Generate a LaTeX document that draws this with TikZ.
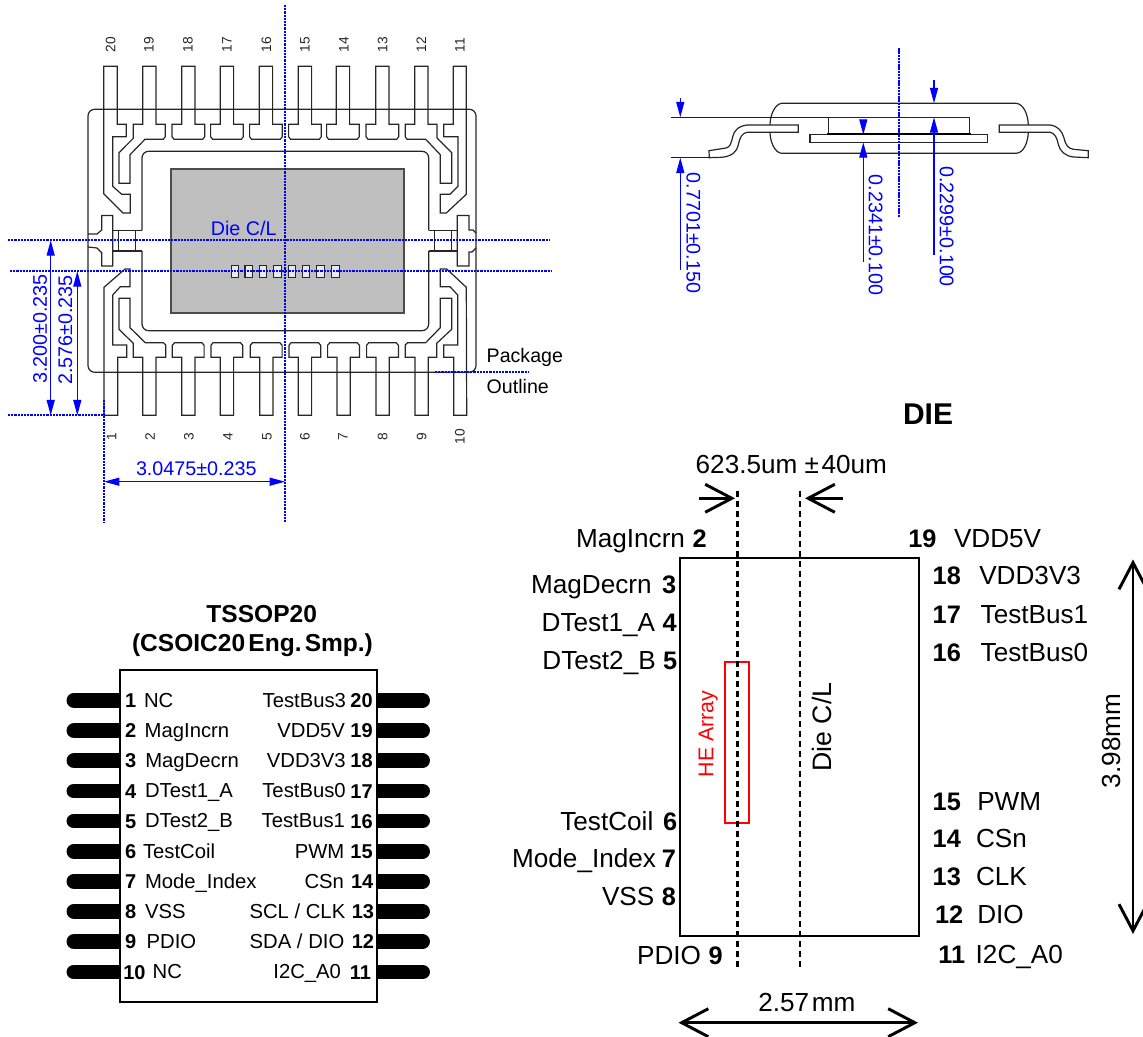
\documentclass[tikz,border=0pt]{standalone}
\usepackage{fontspec}
\setmainfont{Liberation Sans}
\usetikzlibrary{arrows.meta}
\definecolor{diegray}{HTML}{BFBFBF}
\definecolor{padfill}{HTML}{E4E9F2}
\tikzset{
  lead/.style={draw=black!85, line width=0.9pt, line join=miter},
  center line/.style={draw=blue, line width=1.3pt, dash pattern=on 1.7pt off 0.7pt},
  dimline/.style={draw=blue, line width=0.9pt},
  dimtip/.style={-{Triangle[length=11.5pt,width=6pt,color=blue]}},
  dimtips/.style={{Triangle[length=11.5pt,width=6pt,color=blue]}-{Triangle[length=11.5pt,width=6pt,color=blue]}},
  outline/.style={draw=black, line width=1.3pt},
  bigtip/.style={-{Straight Barb[length=20pt,width=21pt,line width=2.2pt]}},
  bigtips/.style={{Straight Barb[length=20pt,width=21pt,line width=2.2pt]}-{Straight Barb[length=20pt,width=21pt,line width=2.2pt]}},
  diedash/.style={draw=black, line width=2pt, dash pattern=on 4.5pt off 3pt},
  pinbar/.style={line width=11.2pt, line cap=round, draw=black},
  every node/.style={inner sep=0pt, outer sep=0pt},
  small/.style={font=\fontsize{10.3}{12}\selectfont, rotate=90, text=black!85},
  dimtext/.style={font=\fontsize{14.8}{18}\selectfont, text=blue},
  chipname/.style={font=\fontsize{15.2}{18}\selectfont},
  chipnum/.style={font=\fontsize{15}{18}\selectfont\bfseries},
  diename/.style={font=\fontsize{19.6}{23}\selectfont},
  dienum/.style={font=\fontsize{19}{23}\selectfont\bfseries},
}
\begin{document}
\begin{tikzpicture}[x=0.75pt,y=-0.75pt]
\useasboundingbox (0,0) rectangle (1143,1037);

% ---- top view ----
\draw[draw=black!70, line width=1.2pt, fill=diegray] (170.7,169) rectangle (404,313.3);
\foreach \x [count=\i] in {231.3,245,259.3,273.7,288.3,302.3,316.7,331.7}
  \draw[lead, fill=padfill] (\x,265.3) rectangle ++(7.5,12);
\draw[lead, rounded corners=5pt] (88,109.3) rectangle (476,372.3);
\draw[lead, rounded corners=5pt] (142,230.3) -- (142,151.3) -- (428.7,151.3) -- (428.7,230.3);
\draw[lead, rounded corners=5pt] (142,251) -- (142,330.7) -- (428.7,330.7) -- (428.7,251);
% tie bars
\draw[lead] (88,234) -- (97,234) -- (101.7,230) -- (101.7,215.5) -- (112.7,215.5) -- (112.7,266) -- (101.7,266) -- (101.7,252.7) -- (97,248) -- (88,247);
\draw[lead] (112.7,230.3) -- (142,230.3) (112.7,251) -- (142,251) (118.3,230.3) -- (118.3,251) (135.7,230.3) -- (135.7,251);
\draw[lead] (476,248) -- (472,252) -- (469,252) -- (469,266) -- (457.3,266) -- (457.3,215.5) -- (469,215.5) -- (469,230) -- (473,230) -- (476,233);
\draw[lead] (428.7,230.3) -- (457.3,230.3) (428.7,251) -- (457.3,251) (434.3,230.3) -- (434.3,251) (451.7,230.3) -- (451.7,251);
% straight T leads, top
\foreach \x in {181.7,220.3,259.3,298.3,336.3,375.7}
  \draw[lead] (\x,66.3) -- (\x,124.3) -- (\x-9.7,124.3) -- (\x-9.7,136.7) -- (\x-7.7,139.3) -- (\x+21,139.3) -- (\x+23,136.7) -- (\x+23,124.3) -- (\x+13.3,124.3) -- (\x+13.3,66.3) -- cycle;
% straight T leads, bottom
\foreach \x in {181.7,220.3,259.7,298.3,337,376}
  \draw[lead] (\x,415.3) -- (\x,357.3) -- (\x-9.4,357.3) -- (\x-9.4,345.3) -- (\x-7.2,342.7) -- (\x+20.2,342.7) -- (\x+22.4,345.3) -- (\x+22.4,357.3) -- (\x+13.3,357.3) -- (\x+13.3,415.3) -- cycle;
% pin 20
\draw[lead] (103.7,66.3) -- (117.3,66.3) -- (117.3,124.3) -- (126.3,124.3) -- (126.3,136.7) -- (112.7,136.7) -- (112.7,186.3) -- (121.7,194.3) -- (130.3,194.3) -- (130.3,213) -- (123,213) -- (103.7,193.7) -- cycle;
% pin 19
\draw[lead] (142.7,66.3) -- (156,66.3) -- (156,124.3) -- (165.3,124.3) -- (165.3,136.7) -- (163.3,139.3) -- (145,139.3) -- (130,154.7) -- (130,183.3) -- (119,183.3) -- (119,152.7) -- (133.3,138.3) -- (133.3,124.3) -- (142.7,124.3) -- cycle;
% pin 12
\draw[lead] (414.7,66.3) -- (428,66.3) -- (428,124.3) -- (437,124.3) -- (437,138) -- (451.7,152.7) -- (451.7,183.3) -- (440.3,183.3) -- (440.3,154.7) -- (425.7,139.3) -- (407,139.3) -- (405.3,136.7) -- (405.3,124.3) -- (414.7,124.3) -- cycle;
% pin 11
\draw[lead] (453.3,66.3) -- (466.3,66.3) -- (466.3,194.3) -- (446.3,213) -- (440.3,213) -- (440.3,194.3) -- (450,194.3) -- (458,186.3) -- (458,136.7) -- (443.7,136.7) -- (443.7,124.3) -- (453.3,124.3) -- cycle;
% pin 1
\draw[lead] (104,415.3) -- (104,287.3) -- (125,269) -- (130,269) -- (130,286.7) -- (120.3,286.7) -- (112.7,295) -- (112.7,345) -- (126.7,345) -- (126.7,357.3) -- (117.7,357.3) -- (117.7,415.3) -- cycle;
% pin 2
\draw[lead] (142.7,415.3) -- (142.7,357.3) -- (133.3,357.3) -- (133.3,343.3) -- (119,329.3) -- (119,298.3) -- (130,298.3) -- (130,327.7) -- (145.3,342.7) -- (163.3,342.7) -- (165.7,345) -- (165.7,357.3) -- (156,357.3) -- (156,415.3) -- cycle;
% pin 9
\draw[lead] (415,415.3) -- (415,357.3) -- (405.3,357.3) -- (405.3,345) -- (407.5,342.7) -- (425.7,342.7) -- (440.3,327.7) -- (440.3,298.3) -- (451.7,298.3) -- (451.7,329.3) -- (436.7,343.3) -- (436.7,357.3) -- (428.3,357.3) -- (428.3,415.3) -- cycle;
% pin 10
\draw[lead] (453.7,415.3) -- (453.7,357.3) -- (443.7,357.3) -- (443.7,345) -- (457.7,345) -- (457.7,295) -- (450,286.7) -- (440.3,286.7) -- (440.3,269) -- (446.7,269) -- (466.3,287.3) -- (466.7,415.3) -- cycle;
% pin numbers
\foreach \x/\t in {110.7/20,149/19,188/18,227/17,266.5/16,305/15,344/14,382.7/13,421.3/12,460/11}
  \node[small] (top\t) at (\x,45) {\t};
\foreach \x/\t in {111.7/1,150/2,189/3,228/4,267/5,305/6,343/7,382.7/8,421.7/9,460/10}
  \node[small] (bot\t) at (\x,436.7) {\t};
% centre lines
\draw[center line] (8,240.3) -- (550,240.3);
\draw[center line] (10,271.3) -- (552,271.3);
\draw[center line] (8,415.3) -- (104,415.3);
\draw[center line] (285,5) -- (285,522.7);
\draw[center line] (104,400) -- (104,522.7);
\draw[center line] (435,372.3) -- (528,372.3);
% dimensions
\coordinate (d1a) at (50.7,240.3); \coordinate (d1b) at (50.7,415.3);
\coordinate (d2a) at (77.3,271.3); \coordinate (d2b) at (77.3,415.3);
\coordinate (d3a) at (104,481.7); \coordinate (d3b) at (285,481.7);
\draw[dimline, dimtips] (d1a) -- (d1b);
\draw[dimline, dimtips] (d2a) -- (d2b);
\draw[dimline, dimtips] (d3a) -- (d3b);
\node[dimtext, rotate=90] (dima) at (40,329) {3.200±0.235};
\node[dimtext, rotate=90] (dimb) at (65.3,330) {2.576±0.235};
\node[dimtext] (dimc) at (196.3,469) {3.0475±0.235};
\node[dimtext] (diecl) at (243.7,228) {Die C/L};
\node[chipname, font=\fontsize{14.7}{18}\selectfont, anchor=west] (pkg) at (486.7,357) {Package};
\node[chipname, font=\fontsize{14.7}{18}\selectfont, anchor=west] (outl) at (486.7,386) {Outline};

% ---- side view ----
\draw[lead] (781.7,103.3) -- (1016,103.3) .. controls (1024,104) and (1028,115) .. (1028.3,125) -- (1028.3,132) .. controls (1028,142) and (1024,153) .. (1016,153.3) -- (781.7,153.3) .. controls (775,153) and (770,142) .. (770,132) -- (770,125) .. controls (770,115) and (775,104) .. (781.7,103.3) -- cycle;
\draw[lead, fill=white] (798.3,125) -- (747.3,125) .. controls (738,126) and (734,131) .. (732.7,136.7) .. controls (731,144) and (730,147) .. (726,148) -- (709,150.7) -- (709.3,157.7) -- (722,157.3) .. controls (733,156) and (737,151) .. (738.3,145) .. controls (740,137) and (742,133) .. (747.3,132.3) -- (798.3,132.3) -- cycle;
\draw[lead, fill=white] (999.3,125) -- (1050,125) .. controls (1058,126) and (1062,131) .. (1064,138) .. controls (1066,146) and (1068,148) .. (1073.3,149.3) -- (1088.3,150.7) -- (1088.3,157.7) -- (1073.3,157) .. controls (1065,156) and (1060,151) .. (1058.5,145) .. controls (1057,138) and (1055,133) .. (1050,132.3) -- (999.3,132.3) -- cycle;
\draw[lead, line width=1pt] (828.3,134.3) -- (828.3,117.3) -- (969.3,117.3) -- (969.3,134.3);
\draw[lead] (810,134.7) rectangle (987.3,142.3);
\draw[draw=black, line width=1.2pt] (827,134.3) -- (971,134.3);
\draw[center line] (898.7,48.3) -- (898.7,216.7);
\draw[dimline] (670.7,117.3) -- (828.3,117.3);
\draw[dimline] (670.7,157.7) -- (709,157.7);
\coordinate (s1a) at (680.3,98.3); \coordinate (s1b) at (680.3,117.3);
\coordinate (s1c) at (680.3,270); \coordinate (s1d) at (680.3,157.7);
\coordinate (s2a) at (863.3,120); \coordinate (s2b) at (863.3,134.7);
\coordinate (s2c) at (863.3,261.7); \coordinate (s2d) at (863.3,142.3);
\coordinate (s3a) at (934,80); \coordinate (s3b) at (934,103.3);
\coordinate (s3c) at (934,255); \coordinate (s3d) at (934,117.3);
\draw[dimline, dimtip] (s1a) -- (s1b);
\draw[dimline, dimtip] (s1c) -- (s1d);
\draw[dimline, dimtip] (s2a) -- (s2b);
\draw[dimline, dimtip] (s2c) -- (s2d);
\draw[dimline, dimtip] (s3a) -- (s3b);
\draw[dimline, dimtip] (s3c) -- (s3d);
\node[dimtext, rotate=-90] (sa) at (693.3,233) {0.7701±0.150};
\node[dimtext, rotate=-90] (sb) at (875.7,235) {0.2341±0.100};
\node[dimtext, rotate=-90] (sc) at (946.7,226.7) {0.2299±0.100};

% ---- TSSOP package ----
\node[font=\fontsize{18.4}{22}\selectfont\bfseries] (t1) at (261.7,614) {TSSOP20};
\node[font=\fontsize{18.4}{22}\selectfont\bfseries] (t2) at (252.5,645) {(CSOIC20\hspace{2.4pt}Eng.\hspace{2.4pt}Smp.)};
\foreach \y in {700.3,730.7,760.7,791,821,851.3,881.3,911.3,941.7,972} {
  \draw[pinbar] (74,\y) -- (120,\y);
  \draw[pinbar] (377,\y) -- (422.5,\y);
}
\draw[outline, fill=white] (120,670.3) rectangle (377.3,1002.3);
\foreach \y/\nx/\n/\tx/\t in {
  700.3/125/1/144/NC,730.7/125/2/144.7/MagIncrn,760.7/125/3/145.3/MagDecrn,
  791/125/4/145/DTest1\_A,821/125/5/145/DTest2\_B,851.3/125/6/143/TestCoil,
  881.3/125/7/145/Mode\_Index,911.3/125/8/145/VSS,941.7/125/9/146.7/PDIO,972/123.3/10/152.7/NC}{
  \node[chipnum, anchor=base west] (cn\n) at (\nx,\y+7.2) {\n};
  \node[chipname, anchor=base west] (cl\n) at (\tx,\y+6.8) {\t};
}
\foreach \y/\nx/\n/\tx/\t in {
  700.3/372.7/20/346/TestBus3,730.7/372.7/19/345/VDD5V,760.7/372.7/18/345.7/VDD3V3,
  791/372.7/17/345.7/TestBus0,821/372.7/16/345/TestBus1,851.3/372.7/15/344.3/PWM,
  881.3/373.3/14/344/CSn,911.3/374/13/345.3/{SCL / CLK},941.7/374/12/344.3/{SDA / DIO},972/371/11/341/I2C\_A0}{
  \node[chipnum, anchor=base east] (cn\n) at (\nx,\y+7.2) {\n};
  \node[chipname, anchor=base east] (cl\n) at (\tx,\y+6.8) {\t};
}

% ---- die ----
\node[font=\fontsize{22.5}{26}\selectfont\bfseries] (die) at (928,414) {DIE};
\node[diename, anchor=base west] (dim1) at (695.7,474) {623.5um ±\hspace{2pt}40um};
\draw[outline] (680,557.7) rectangle (918.7,936);
\draw[draw=red, line width=1.4pt] (725.3,662.3) rectangle (749.3,822.7);
\draw[diedash] (737.3,490.7) -- (737.3,969.3);
\draw[diedash] (800,490.7) -- (800,969.3);
\node[diename, rotate=90, text=red, font=\fontsize{16}{20}\selectfont] (he) at (708.3,734) {HE Array};
\node[diename, rotate=90, font=\fontsize{20}{24}\selectfont] (dc) at (821.5,727) {Die C/L};
\coordinate (w1a) at (699,498.3); \coordinate (w1b) at (735,498.3);
\coordinate (w2a) at (843,498.3); \coordinate (w2b) at (805,498.3);
\draw[draw=black, line width=2.2pt, bigtip] (w1a) -- (w1b);
\draw[draw=black, line width=2.2pt, bigtip] (w2a) -- (w2b);
\foreach \y/\n/\nx/\t/\tx in {
  547.7/2/706.7/MagIncrn/685, 594/3/676.3/MagDecrn/651.7, 631.7/4/676.7/DTest1\_A/655,
  669.3/5/677.3/DTest2\_B/655.7, 830/6/677.3/TestCoil/653.3, 867.7/7/676/Mode\_Index/656,
  905.7/8/676/VSS/654.3, 964.3/9/722.7/PDIO/701}{
  \node[dienum, anchor=base east] (dn\n) at (\nx,\y) {\n};
  \node[diename, anchor=base east] (dl\n) at (\tx,\y) {\t};
}
\foreach \y/\n/\nx/\t/\tx in {
  547.7/19/908.3/VDD5V/954, 585/18/932.7/VDD3V3/979.3, 623.3/17/932.7/TestBus1/980.7,
  661.3/16/932.7/TestBus0/980.7, 810/15/932.7/PWM/977.3, 847.7/14/932.7/CSn/976,
  885.7/13/932.7/CLK/976, 923.7/12/935/DIO/977.3, 963.3/11/938.3/I2C\_A0/975.7}{
  \node[dienum, anchor=base west] (dn\n) at (\nx,\y) {\n};
  \node[diename, anchor=base west] (dl\n) at (\tx,\y) {\t};
}
\coordinate (h1) at (1133,559.5); \coordinate (h2) at (1133,934);
\draw[draw=black, line width=2.2pt, bigtips] (h1) -- (h2);
\node[diename, rotate=90] (h398) at (1111.7,741) {3.98mm};
\coordinate (b1) at (678.5,1022.7); \coordinate (b2) at (918,1022.7);
\draw[draw=black, line width=2.2pt, bigtips] (b1) -- (b2);
\node[diename, anchor=base west] (b257) at (758.3,1011) {2.57\hspace{2pt}mm};
\end{tikzpicture}
\end{document}
